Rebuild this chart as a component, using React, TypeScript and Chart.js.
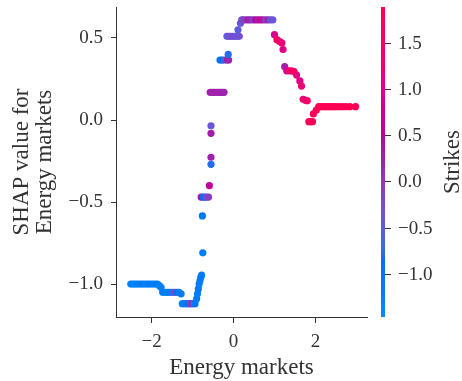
import React, { useEffect, useRef } from 'react';
import { Chart, registerables } from 'chart.js';
Chart.register(...registerables);

// Feature value (x), SHAP value (y), interaction feature value (colour)
const energyMarkets = [
  -2.51, -2.45, -2.40, -2.34, -2.28, -2.22, -2.16, -2.10, -2.04, -1.98, -1.92, -1.86, -1.81, -1.77,
  -1.73, -1.68, -1.63, -1.58, -1.53, -1.48, -1.43, -1.38, -1.33, -1.28,
  -1.25, -1.20, -1.15, -1.10, -1.06, -1.02, -0.98, -0.94,
  -0.90, -0.88, -0.86, -0.84, -0.82, -0.80, -0.78, -0.75, -0.76,
  -0.79, -0.74, -0.70, -0.66, -0.61, -0.59,
  -0.55, -0.55, -0.55, -0.55,
  -0.57, -0.52, -0.47, -0.42, -0.37, -0.32, -0.27, -0.23,
  -0.33, -0.28, -0.22, -0.15, -0.12, -0.13,
  -0.16, -0.11, -0.06, -0.01, 0.04, 0.09, 0.14,
  0.11, 0.17, 0.20,
  0.24, 0.30, 0.36, 0.42, 0.48, 0.54, 0.60, 0.66, 0.72, 0.78, 0.84, 0.90, 0.96,
  1.00, 1.06, 1.12, 1.18, 1.21, 1.25, 1.30, 1.36, 1.42, 1.48, 1.54, 1.62, 1.66, 1.70, 1.76, 1.80,
  1.84, 1.88, 1.93, 1.95, 2.02,
  2.08, 2.14, 2.20, 2.26, 2.32, 2.38, 2.44, 2.50, 2.58, 2.66, 2.74, 2.84, 2.98,
];
const shapValues = [
  -1.00, -1.00, -1.00, -1.00, -1.00, -1.00, -1.00, -1.00, -1.00, -1.00, -1.00, -1.00, -1.01, -1.02,
  -1.05, -1.05, -1.05, -1.05, -1.05, -1.05, -1.05, -1.05, -1.05, -1.06,
  -1.12, -1.12, -1.12, -1.12, -1.12, -1.12, -1.12, -1.12,
  -1.09, -1.06, -1.03, -1.00, -0.98, -0.96, -0.945, -0.81, -0.585,
  -0.47, -0.47, -0.47, -0.47, -0.47, -0.40,
  -0.27, -0.227, -0.081, -0.035,
  0.169, 0.169, 0.169, 0.169, 0.169, 0.169, 0.169, 0.169,
  0.366, 0.366, 0.366, 0.366, 0.366, 0.40,
  0.51, 0.51, 0.51, 0.51, 0.51, 0.51, 0.51,
  0.55, 0.59, 0.61,
  0.61, 0.61, 0.61, 0.61, 0.61, 0.61, 0.61, 0.61, 0.61, 0.61, 0.61, 0.61, 0.61,
  0.52, 0.49, 0.48, 0.47, 0.43, 0.325, 0.30, 0.30, 0.30, 0.295, 0.274, 0.238, 0.207, 0.126, 0.12, 0.118,
  -0.01, -0.01, -0.01, 0.037, 0.06,
  0.081, 0.081, 0.081, 0.081, 0.081, 0.081, 0.081, 0.081, 0.081, 0.081, 0.081, 0.081, 0.081,
];
const strikes = [
  -1.25, -1.20, -1.30, -1.15, -1.20, -1.10, -1.25, -1.20, -1.05, -1.15, -1.20, -1.10, -1.25, -1.20,
  -1.20, -1.15, -1.25, -1.10, -1.20, -0.70, -0.25, -0.90, -1.20, -1.15,
  -1.20, -1.10, -1.20, -0.90, -0.40, 0.20, -0.50, -1.00,
  -1.10, -1.15, -1.10, -1.20, -1.10, -1.05, -1.10, -1.10, -1.00,
  0.60, -1.05, -0.90, -0.30, -0.05, 0.60,
  -0.80, 0.25, 0.30, -0.40,
  0.30, 0.20, 0.30, 0.25, 0.20, 0.30, 0.25, 0.20,
  -1.00, -0.90, -0.70, 0.30, 0.20, -0.80,
  -0.50, -0.30, -0.40, -0.20, -0.30, -0.50, -0.30,
  -0.50, -0.40, -0.30,
  -0.20, 0.00, 0.30, 0.20, -0.10, 0.50, 0.30, 0.80, 0.40, -0.10, 0.20, -0.30, -0.40,
  0.90, 1.70, 1.50, 1.30, 1.00, 0.30, 0.90, 1.40, 1.60, 1.70, 1.20, 1.10, 1.30, 1.50, 1.20, 1.60,
  1.80, 1.85, 1.80, 1.70, 1.75,
  1.80, 1.85, 1.90, 1.85, 1.80, 1.90, 1.85, 1.80, 1.90, 1.85, 1.80, 1.90, 1.85,
];
const xTicks = [-2, 0, 2];
const yTicks = [-1.0, -0.5, 0.0, 0.5];
const colorbarTicks = [-1.0, -0.5, 0.0, 0.5, 1.0, 1.5];
const strikesMin = -1.47;
const strikesMax = 1.89;
const xLabel = 'Energy markets';
const yLabelLines = ['SHAP value for', 'Energy markets'];
const colorbarLabel = 'Strikes';

const TEXT = '#333333';
const FONT = '"Liberation Serif", "Times New Roman", serif';

// SHAP red_blue colormap (LCH interpolation)
function lch2rgb(L: number, C: number, H: number): [number, number, number] {
  const a = C * Math.cos(H);
  const b = C * Math.sin(H);
  let y = (L + 16) / 116;
  let x = a / 500 + y;
  let z = y - b / 200;
  if (z < 0) z = 0;
  const f = (v: number) => (v > 0.2068966 ? v * v * v : (v - 16 / 116) / 7.787);
  const X = f(x) * 0.95047, Y = f(y) * 1.0, Z = f(z) * 1.08883;
  const r = 3.24048134 * X - 1.53715152 * Y - 0.49853633 * Z;
  const g = -0.96925495 * X + 1.87599 * Y + 0.04155593 * Z;
  const bl = 0.05564664 * X - 0.20404134 * Y + 1.05731107 * Z;
  const gam = (v: number) => {
    const c = v > 0.0031308 ? 1.055 * Math.pow(v, 1 / 2.4) - 0.055 : 12.92 * v;
    return Math.round(Math.min(1, Math.max(0, c)) * 255);
  };
  return [gam(r), gam(g), gam(bl)];
}
function redBlue(t: number): string {
  t = Math.min(1, Math.max(0, t));
  const L = t < 0.5 ? 54 + (40 - 54) * (t / 0.5) : 40 + (54 - 40) * ((t - 0.5) / 0.5);
  const C = 70 + 20 * t;
  const H = 4.6588 + (0.35470565 + 2 * Math.PI - 4.6588) * t;
  const [r, g, b] = lch2rgb(L, C, H);
  return `rgb(${r},${g},${b})`;
}
const norm = (v: number) => (v - strikesMin) / (strikesMax - strikesMin);

const fmtY = (v: number) => (v < 0 ? '\u2212' : '') + Math.abs(v).toFixed(1);
const fmtX = (v: number) => (v < 0 ? '\u2212' : '') + Math.abs(v).toFixed(0);

const extrasPlugin = {
  id: 'extras',
  afterDraw(chart: any) {
    const { ctx, chartArea } = chart;
    const { left, right, top, bottom } = chartArea;
    ctx.save();
    // x label
    ctx.fillStyle = TEXT;
    ctx.font = `23px ${FONT}`;
    ctx.textAlign = 'center';
    ctx.textBaseline = 'middle';
    ctx.fillText(xLabel, (left + right) / 2, 368);
    // y label (two lines)
    const cy = (top + bottom) / 2;
    ctx.save();
    ctx.translate(22, cy);
    ctx.rotate(-Math.PI / 2);
    ctx.fillText(yLabelLines[0], 0, 0);
    ctx.restore();
    ctx.save();
    ctx.translate(45, cy);
    ctx.rotate(-Math.PI / 2);
    ctx.fillText(yLabelLines[1], 0, 0);
    ctx.restore();

    // colorbar
    const cbL = 381, cbW = 4;
    const grad = ctx.createLinearGradient(0, bottom, 0, top);
    for (let i = 0; i <= 50; i++) {
      grad.addColorStop(i / 50, redBlue(i / 50));
    }
    ctx.fillStyle = grad;
    ctx.fillRect(cbL, top, cbW, bottom - top);
    ctx.strokeStyle = TEXT;
    ctx.lineWidth = 1;
    ctx.fillStyle = TEXT;
    ctx.font = `19px ${FONT}`;
    ctx.textAlign = 'left';
    ctx.textBaseline = 'middle';
    for (const v of colorbarTicks) {
      const y = Math.round(bottom - norm(v) * (bottom - top)) + 0.5;
      ctx.beginPath();
      ctx.moveTo(cbL + cbW, y);
      ctx.lineTo(cbL + cbW + 6, y);
      ctx.stroke();
      ctx.fillText(fmtY(v), cbL + cbW + 13, y + 1);
    }
    ctx.save();
    ctx.translate(453, cy);
    ctx.rotate(-Math.PI / 2);
    ctx.font = `23px ${FONT}`;
    ctx.textAlign = 'center';
    ctx.fillText(colorbarLabel, 0, 0);
    ctx.restore();
    ctx.restore();
  },
};

export default function App() {
  const ref = useRef<HTMLCanvasElement | null>(null);
  useEffect(() => {
    if (!ref.current) return;
    const pts = energyMarkets.map((x, i) => ({ x, y: shapValues[i] }));
    const colors = strikes.map((s) => redBlue(norm(s)));
    const chart = new Chart(ref.current, {
      type: 'scatter',
      data: {
        datasets: [
          {
            data: pts,
            pointRadius: 3.6,
            pointBorderWidth: 0,
            pointBackgroundColor: colors,
            pointBorderColor: colors,
          },
        ],
      },
      options: {
        animation: false,
        responsive: false,
        maintainAspectRatio: false,
        layout: { padding: { left: 56, right: 95, top: 7, bottom: 34 } },
        plugins: { legend: { display: false }, tooltip: { enabled: false } },
        scales: {
          x: {
            type: 'linear',
            min: -2.87,
            max: 3.26,
            afterBuildTicks: (s: any) => {
              s.ticks = xTicks.map((v) => ({ value: v }));
            },
            afterFit: (s: any) => {
              s.height = 30;
              s.paddingLeft = 0;
              s.paddingRight = 0;
            },
            ticks: {
              callback: (v: any) => fmtX(Number(v)),
              color: TEXT,
              font: { family: FONT, size: 19 },
              padding: 8,
              maxRotation: 0,
            },
            grid: { drawOnChartArea: false, drawTicks: true, tickLength: 6, color: TEXT },
            border: { display: true, color: TEXT, width: 1 },
          },
          y: {
            type: 'linear',
            min: -1.201,
            max: 0.689,
            afterBuildTicks: (s: any) => {
              s.ticks = yTicks.map((v) => ({ value: v }));
            },
            afterFit: (s: any) => {
              s.width = 60;
              s.paddingTop = 0;
              s.paddingBottom = 0;
            },
            ticks: {
              callback: (v: any) => fmtY(Number(v)),
              color: TEXT,
              font: { family: FONT, size: 19 },
              padding: 8,
            },
            grid: { drawOnChartArea: false, drawTicks: true, tickLength: 5, color: TEXT },
            border: { display: true, color: TEXT, width: 1 },
          },
        },
      },
      plugins: [extrasPlugin],
    });
    return () => chart.destroy();
  }, []);
  return (
    <div style={{ position: 'fixed', left: 0, top: 0, width: 462, height: 381, background: '#fff' }}>
      <canvas ref={ref} width={462} height={381} style={{ display: 'block' }} />
    </div>
  );
}
